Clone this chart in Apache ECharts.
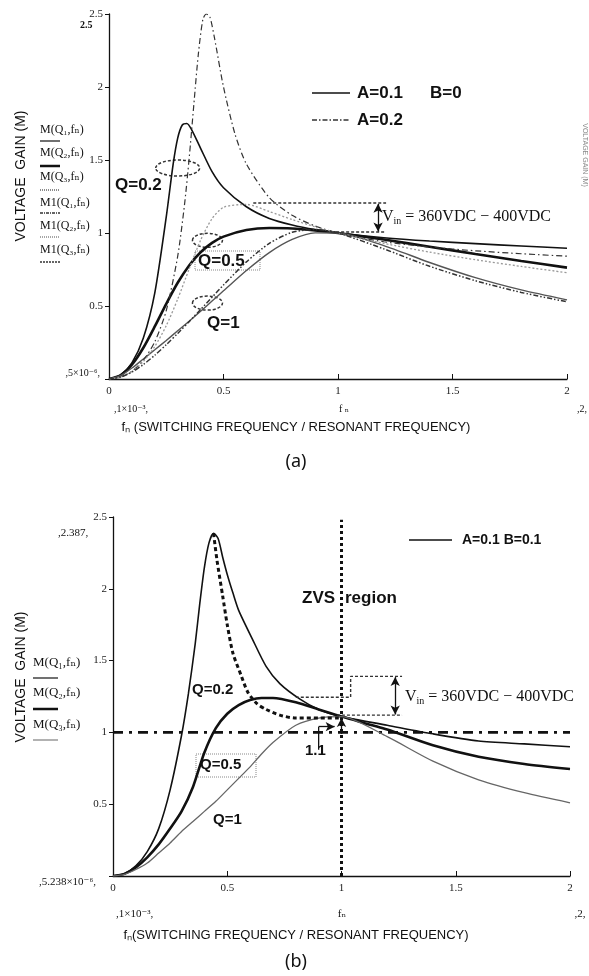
<!DOCTYPE html>
<html><head><meta charset="utf-8">
<script src="https://cdn.jsdelivr.net/npm/echarts/dist/echarts.min.js"></script>
<style>html,body{margin:0;padding:0;background:#fff}#c{width:589px;height:976px}</style>
</head><body><div id="c"></div>
<script>
// ---------- Panel (a): A=0.1 B=0 (solid) and A=0.2 (dash-dot) ----------
const fnA1Q02 = [0,0.05,0.1,0.15,0.2,0.25,0.28,0.3,0.32,0.34,0.36,0.4,0.45,0.5,0.6,0.7,0.8,0.9,1.0,1.2,1.4,1.6,1.8,2.0];
const gainA1Q02 = [0,0.026,0.11,0.28,0.59,1.11,1.47,1.65,1.74,1.75,1.71,1.58,1.42,1.31,1.18,1.10,1.055,1.023,1.0,0.968,0.945,0.927,0.911,0.896];
const fnStd = [0,0.05,0.1,0.15,0.2,0.25,0.3,0.35,0.4,0.45,0.5,0.6,0.7,0.8,0.9,1.0,1.2,1.4,1.6,1.8,2.0];
const gainA1Q05 = [0,0.025,0.098,0.214,0.36,0.515,0.659,0.778,0.868,0.932,0.975,1.02,1.034,1.031,1.018,1.0,0.955,0.906,0.856,0.808,0.763];
const gainA1Q1 = [0,0.023,0.075,0.137,0.2,0.264,0.33,0.396,0.464,0.534,0.604,0.743,0.866,0.956,1.001,1.0,0.914,0.798,0.694,0.61,0.542];
const fnA2Q02 = [0,0.05,0.1,0.15,0.2,0.25,0.3,0.33,0.35,0.37,0.39,0.41,0.425,0.44,0.46,0.5,0.55,0.6,0.7,0.8,0.9,1.0,1.2,1.4,1.6,1.8,2.0];
const gainA2Q02 = [0,0.013,0.053,0.128,0.255,0.468,0.841,1.198,1.51,1.871,2.223,2.464,2.5,2.483,2.341,2.0,1.679,1.473,1.242,1.121,1.048,1.0,0.94,0.904,0.878,0.858,0.841];
const gainA2Q05 = [0,0.013,0.051,0.12,0.223,0.365,0.547,0.754,0.951,1.098,1.176,1.196,1.147,1.092,1.043,1.0,0.929,0.869,0.817,0.771,0.728];
const gainA2Q1 = [0,0.012,0.047,0.099,0.163,0.235,0.312,0.393,0.476,0.56,0.644,0.802,0.929,1.005,1.024,1.0,0.891,0.772,0.673,0.593,0.529];

// ---------- Panel (b): A=0.1 B=0.1 ----------
const fnBQ02 = [0,0.05,0.1,0.15,0.2,0.25,0.3,0.33,0.36,0.38,0.4,0.42,0.44,0.46,0.48,0.5,0.525,0.55,0.61,0.67,0.73,0.82,0.9,1.0,1.2,1.4,1.6,1.8,2.0];
const gainBQ02 = [0,0.015,0.07,0.17,0.33,0.6,0.98,1.27,1.62,1.9,2.15,2.32,2.387,2.35,2.22,2.1,1.97,1.85,1.65,1.46,1.34,1.23,1.16,1.11,1.05,0.99,0.94,0.92,0.90];
const fnB = [0,0.05,0.1,0.15,0.2,0.25,0.3,0.35,0.4,0.45,0.5,0.55,0.6,0.65,0.7,0.8,0.9,1.0,1.2,1.4,1.6,1.8,2.0];
const gainBQ05 = [0,0.015,0.06,0.13,0.22,0.33,0.45,0.62,0.86,1.03,1.13,1.19,1.225,1.24,1.24,1.21,1.16,1.11,1.02,0.91,0.83,0.78,0.745];
const gainBQ1 = [0,0.012,0.045,0.09,0.16,0.23,0.31,0.38,0.45,0.52,0.6,0.68,0.76,0.85,0.93,1.05,1.1,1.11,0.97,0.8,0.67,0.58,0.51];
const fnZvs = [0.44,0.455,0.48,0.5,0.525,0.56,0.59,0.63,0.67,0.73,0.8,0.9,1.0];
const gainZvs = [2.387,2.2,1.95,1.75,1.55,1.4,1.28,1.2,1.16,1.12,1.1,1.1,1.1];

// reference lines / annotations (data coordinates)
const unityLine = [[0,1],[2,1]];
const zvsBoundary = [[1,0],[1,2.48]];
const vinA_top = [[0.63,1.205],[1.21,1.205]];
const vinA_bot = [[0.97,1.007],[1.21,1.007]];
const vinB_top = [[0.8,1.245],[1.04,1.245],[1.04,1.39],[1.265,1.39]];
const vinB_bot = [[0.98,1.12],[1.265,1.12]];

const xTicks = [0,0.5,1,1.5,2];
const yTicks = [0.5,1,1.5,2,2.5];

const pairs = (xs, ys) => xs.map((x,i)=>[x, ys[i]]);
const SERIF = '"Liberation Serif", "DejaVu Serif", serif';
const SANS = '"Liberation Sans", Arial, sans-serif';

function line(g, data, color, width, type, extra){
  return Object.assign({type:'line', xAxisIndex:g, yAxisIndex:g, data, showSymbol:false, symbol:'none',
    smooth:0.25, silent:true, animation:false,
    lineStyle:{color, width, type}}, extra||{});
}
function axisX(g){
  return {type:'value', gridIndex:g, min:0, max:2, interval:0.5,
    axisLine:{show:true, onZero:false, lineStyle:{color:'#111', width:1.3}},
    axisTick:{show:true, inside:true, length:5, lineStyle:{color:'#111'}},
    splitLine:{show:false},
    axisLabel:{margin:7, fontFamily:SERIF, fontSize:11, color:'#222',
      formatter:v=> xTicks.indexOf(v)>=0 ? String(v) : ''}};
}
function axisY(g){
  return {type:'value', gridIndex:g, min:0, max:2.5, interval:0.5,
    axisLine:{show:true, onZero:false, lineStyle:{color:'#111', width:1.3}},
    axisTick:{show:true, inside:false, length:4, lineStyle:{color:'#111'}},
    splitLine:{show:false},
    axisLabel:{margin:6, fontFamily:SERIF, fontSize:11, color:'#222',
      formatter:v=> yTicks.indexOf(v)>=0 ? String(v) : ''}};
}

const chart = echarts.init(document.getElementById('c'), null, {renderer:'canvas'});
const arrowML = (pts, syms) => ({silent:true, symbol:syms, symbolSize:[7,9], animation:false,
  label:{show:false}, lineStyle:{color:'#111', width:1.3, type:'solid'},
  data:[[{coord:pts[0]},{coord:pts[1]}]]});

chart.setOption({
  animation:false,
  grid:[{left:109, top:14, width:458, height:365},{left:113, top:517, width:457, height:359}],
  xAxis:[axisX(0), axisX(1)],
  yAxis:[axisY(0), axisY(1)],
  series:[
    // panel (a)
    line(0, pairs(fnA1Q02, gainA1Q02), '#111', 1.6, 'solid'),
    line(0, pairs(fnStd, gainA1Q05), '#111', 2.6, 'solid'),
    line(0, pairs(fnStd, gainA1Q1), '#555', 1.4, 'solid'),
    line(0, pairs(fnA2Q02, gainA2Q02), '#333', 1.2, [6,3,1.5,3]),
    line(0, pairs(fnStd, gainA2Q05), '#999', 1.3, [2,2]),
    line(0, pairs(fnStd, gainA2Q1), '#333', 1.5, [5,2,1.5,2,1.5,2]),
    line(0, vinA_top, '#333', 1.4, [3,2], {smooth:false}),
    line(0, vinA_bot, '#333', 1.4, [3,2], {smooth:false,
      markLine: arrowML([[1.175,1.2],[1.175,1.01]], ['arrow','arrow'])}),
    // panel (b)
    line(1, unityLine, '#111', 2.6, [10,6,3,6], {smooth:false}),
    line(1, zvsBoundary, '#111', 3, [3,3], {smooth:false}),
    line(1, pairs(fnBQ02, gainBQ02), '#111', 1.6, 'solid'),
    line(1, pairs(fnB, gainBQ05), '#111', 2.6, 'solid'),
    line(1, pairs(fnB, gainBQ1), '#666', 1.3, 'solid'),
    line(1, pairs(fnZvs, gainZvs), '#111', 3, [4,3]),
    line(1, vinB_top, '#333', 1.4, [3,2], {smooth:false}),
    line(1, vinB_bot, '#333', 1.4, [3,2], {smooth:false,
      markLine: arrowML([[1.235,1.385],[1.235,1.125]], ['arrow','arrow'])}),
    line(1, [[0.9,0.88],[0.9,1.04]], '#111', 1.3, 'solid', {smooth:false,
      markLine: arrowML([[0.9,1.04],[0.97,1.04]], ['none','arrow'])}),
    line(1, [[1,0.99],[1,1.0]], '#111', 1.3, 'solid', {smooth:false,
      markLine: arrowML([[1,0.99],[1,1.1]], ['none','arrow'])})
  ]
});

function P(g, x, y){ return chart.convertToPixel({xAxisIndex:g, yAxisIndex:g}, [x,y]); }
function T(x, y, text, font, opt){
  return Object.assign({type:'text', x, y, silent:true,
    style:Object.assign({text, font, fill:'#111', align:'left', verticalAlign:'middle'}, (opt&&opt.style)||{})},
    opt&&opt.el ? opt.el : {});
}
function L(x1,y1,x2,y2,stroke,w,dash){
  return {type:'line', silent:true, shape:{x1,y1,x2,y2}, style:{stroke, lineWidth:w, lineDash:dash||null}};
}
function E(g, x, y, rx, ry){
  const p = P(g, x, y);
  return {type:'ellipse', silent:true, shape:{cx:p[0], cy:p[1], rx, ry},
    style:{fill:'none', stroke:'#333', lineWidth:1.5, lineDash:[3,2]}};
}
const boldQ = 'bold 17px ' + SANS;
const boldQb = 'bold 15px ' + SANS;
const small = '10px ' + SERIF;
const leg = '12px ' + SERIF;
const vinRich = {v:{font:'16px '+SERIF, fill:'#111'}, s:{font:'10px '+SERIF, fill:'#111', padding:[9,0,0,0]}};

const g = [
  // ---- panel (a) ----
  L(312,93,350,93,'#111',1.5), T(357,93,'A=0.1','bold 17px '+SANS), T(430,93,'B=0','bold 17px '+SANS),
  L(312,120,350,120,'#333',1.3,[5,2,1.5,2]), T(357,120,'A=0.2','bold 17px '+SANS),
  T(115,185,'Q=0.2',boldQ),
  {type:'rect', silent:true, shape:{x:195,y:251,width:65,height:19}, style:{fill:'none', stroke:'#888', lineWidth:1, lineDash:[1,1]}},
  T(198,261,'Q=0.5',boldQ),
  T(207,323,'Q=1',boldQ),
  E(0, 0.30, 1.445, 22, 8), E(0, 0.43, 0.95, 15, 7), E(0, 0.43, 0.52, 15, 7),
  T(382,217,'{v|V}{s|in}{v| = 360VDC − 400VDC}','16px '+SERIF,{style:{rich:vinRich}}),
  T(80,25,'2.5','bold 10px '+SERIF),
  T(100,373,',5×10⁻⁶,',small,{style:{align:'right'}}),
  T(114,409,',1×10⁻³,',small),
  T(344,409,'f ₙ',small,{style:{align:'center'}}),
  T(582,409,',2,',small,{style:{align:'center'}}),
  T(296,427,'fₙ (SWITCHING FREQUENCY / RESONANT FREQUENCY)','13px '+SANS,{style:{align:'center'}}),
  T(296,462,'(a)','18px "Noto Sans", sans-serif',{style:{align:'center'}}),
  T(21,176,'VOLTAGE  GAIN (M)','14px '+SANS,{style:{align:'center'}, el:{rotation:Math.PI/2}}),
  T(585,155,'VOLTAGE GAIN (M)','7px '+SANS,{style:{align:'center', fill:'#888'}, el:{rotation:-Math.PI/2}}),
  T(40,130,'M(Q₁,fₙ)',leg), L(40,141,60,141,'#111',1.2),
  T(40,153,'M(Q₂,fₙ)',leg), L(40,166,60,166,'#111',2.5),
  T(40,177,'M(Q₃,fₙ)',leg), L(40,190,60,190,'#666',1.5,[1,1]),
  T(40,203,'M1(Q₁,fₙ)',leg), L(40,213,60,213,'#333',1.3,[3,1,1,1]),
  T(40,226,'M1(Q₂,fₙ)',leg), L(40,237,60,237,'#777',1.3,[1,1]),
  T(40,250,'M1(Q₃,fₙ)',leg), L(40,262,60,262,'#333',1.3,[2,1]),
  // ---- panel (b) ----
  L(409,540,452,540,'#111',1.5), T(462,540,'A=0.1 B=0.1','bold 14px '+SANS),
  T(302,598,'ZVS','bold 17px '+SANS), T(345,598,'region','bold 17px '+SANS),
  T(192,690,'Q=0.2',boldQb),
  {type:'rect', silent:true, shape:{x:196,y:754,width:60,height:23}, style:{fill:'none', stroke:'#888', lineWidth:1, lineDash:[1,1]}},
  T(200,765,'Q=0.5',boldQb),
  T(213,820,'Q=1',boldQb),
  T(405,697,'{v|V}{s|in}{v| = 360VDC − 400VDC}','16px '+SERIF,{style:{rich:vinRich}}),
  T(305,751,'1.1','bold 15px '+SANS),
  T(58,533,',2.387,','11px '+SERIF),
  T(96,882,',5.238×10⁻⁶,','11px '+SERIF,{style:{align:'right'}}),
  T(116,914,',1×10⁻³,','11px '+SERIF),
  T(342,914,'fₙ','11px '+SERIF,{style:{align:'center'}}),
  T(580,914,',2,','11px '+SERIF,{style:{align:'center'}}),
  T(296,935,'fₙ(SWITCHING FREQUENCY / RESONANT FREQUENCY)','13px '+SANS,{style:{align:'center'}}),
  T(296,962,'(b)','18px "Noto Sans", sans-serif',{style:{align:'center'}}),
  T(21,677,'VOLTAGE  GAIN (M)','14px '+SANS,{style:{align:'center'}, el:{rotation:Math.PI/2}}),
  T(33,663,'M(Q₁,fₙ)','13px '+SERIF), L(33,678,58,678,'#111',1.2),
  T(33,693,'M(Q₂,fₙ)','13px '+SERIF), L(33,709,58,709,'#111',2.5),
  T(33,725,'M(Q₃,fₙ)','13px '+SERIF), L(33,740,58,740,'#888',1.3)
];
chart.setOption({graphic:g});
</script></body></html>
